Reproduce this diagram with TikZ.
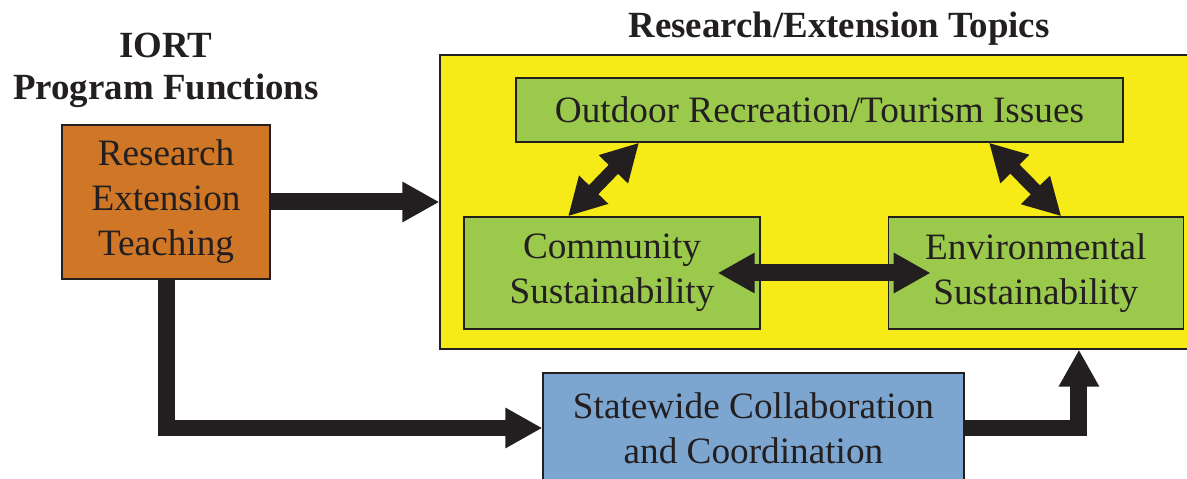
\documentclass[tikz,border=0pt]{standalone}
\usepackage{fontspec}
\setmainfont{Liberation Serif}
\usetikzlibrary{arrows.meta, positioning}

\definecolor{ink}{RGB}{35,31,32}
\definecolor{orangebox}{RGB}{207,118,39}
\definecolor{yellowbox}{RGB}{246,235,22}
\definecolor{greenbox}{RGB}{155,201,76}
\definecolor{bluebox}{RGB}{124,166,208}

\begin{document}
\begin{tikzpicture}[x=0.02cm, y=-0.02cm,
		box/.style={draw=ink, line width=0.8pt, inner sep=0pt, align=center, text=ink, font=\fontsize{21.2}{25.6}\selectfont},
		title/.style={align=center, text=ink, font=\bfseries\fontsize{21}{24}\selectfont},
		flow/.style={draw=ink, line width=0.34cm, line join=miter, -{Triangle[length=0.74cm, width=0.76cm]}},
		both/.style={flow, {Triangle[length=0.74cm, width=0.76cm]}-{Triangle[length=0.74cm, width=0.76cm]}}]

	\useasboundingbox (0,0) rectangle (1187,479);

	% titles
	\node [title] (iort) at (166,70) {IORT\\Program Functions};
	\node [title] (head) at (839,29) {Research/Extension Topics};

	% boxes
	\node [box, fill=orangebox, minimum width=4.16cm, minimum height=3.08cm] (prog) at (166,202) {Research\\Extension\\Teaching};
	\node [box, fill=yellowbox, minimum width=15cm, minimum height=5.88cm] (topics) at (815,202) {};
	\node [box, fill=greenbox, minimum width=12.14cm, minimum height=1.28cm] (outdoor) at (819.5,110) {Outdoor Recreation/Tourism Issues};
	\node [box, fill=greenbox, minimum width=5.92cm, minimum height=2.24cm] (community) at (612,273) {Community\\Sustainability};
	\node [box, fill=greenbox, minimum width=5.9cm, minimum height=2.24cm] (environ) [right=2.54cm of community] {Environmental\\Sustainability};
	\node [box, fill=bluebox, minimum width=8.42cm, minimum height=2.2cm] (statewide) at (753.5,428) {Statewide Collaboration\\and Coordination};

	% connectors
	\draw [flow] (prog) -- (topics);
	\draw [both] ([xshift=-0.86cm]community.east) -- ([xshift=0.86cm]environ.west);
	\draw [both, line width=0.26cm] ([xshift=-0.88cm]community.north) -- ([xshift=-3.61cm]outdoor.south);
	\draw [both, line width=0.26cm] ([xshift=3.39cm]outdoor.south) -- ([xshift=0.51cm]environ.north);
	\draw [flow] (prog.south) |- (statewide.west);
	\draw [flow] (statewide.east) -| ([xshift=5.28cm]topics.south);

\end{tikzpicture}
\end{document}
